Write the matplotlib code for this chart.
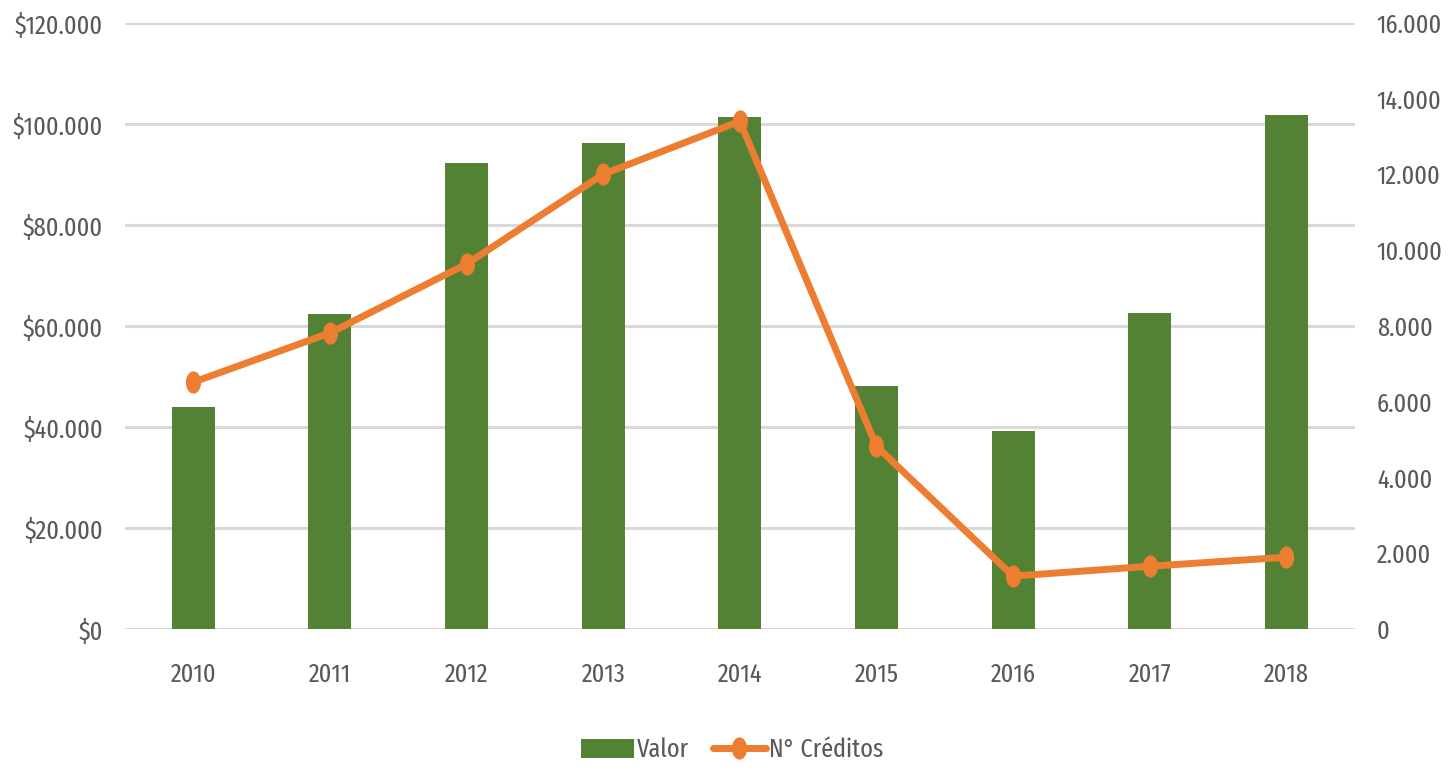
import matplotlib
matplotlib.use("Agg")
import numpy as np
from matplotlib import pyplot as plt
from matplotlib.ticker import FuncFormatter

years = ["2010", "2011", "2012", "2013", "2014", "2015", "2016", "2017", "2018"]
valor = [43.9, 62.4, 92.3, 96.2, 101.4, 48.1, 39.2, 62.6, 101.8]  # miles de $
creditos = [6520, 7820, 9640, 12010, 13410, 4830, 1400, 1660, 1900]

green = "#548235"
orange = "#ED7D31"
gray_txt = "#595959"

plt.rcParams["font.family"] = ["Fira Sans Extra Condensed", "DejaVu Sans"]

def miles(v):
  # formato con punto como separador de miles
  return f"{int(round(v)):,}".replace(",", ".")

# marcador eliptico (la imagen original esta comprimida en horizontal)
t = np.linspace(0, 2 * np.pi, 40)
oval = np.column_stack([0.66 * np.cos(t), np.sin(t)])

fig = plt.figure(figsize=(14.5, 7.71), dpi=100)
ax = fig.add_axes([0.0862, 0.184, 0.848, 0.786])
ax2 = ax.twinx()

x = np.arange(len(years))
ax.bar(x, valor, width=0.315, color=green, label="Valor", zorder=2)
ax2.plot(x, creditos, color=orange, lw=5, marker=oval, ms=15, label="N° Créditos",
         solid_capstyle="round", zorder=3)

ax.set_xlim(-0.5, len(years) - 0.5)
ax.set_ylim(0, 120)
ax.set_yticks(np.arange(0, 121, 20))
ax.yaxis.set_major_formatter(FuncFormatter(lambda v, p: "$" + miles(v * 1000) if v else "$0"))
ax2.set_ylim(0, 16000)
ax2.set_yticks(np.arange(0, 16001, 2000))
ax2.yaxis.set_major_formatter(FuncFormatter(lambda v, p: miles(v)))

ax.set_xticks(x)
ax.set_xticklabels(years)
ax.grid(axis="y", color="#d9d9d9", lw=2.2, zorder=0)
ax.set_axisbelow(True)

for a in (ax, ax2):
  for s in a.spines.values():
    s.set_visible(False)
  a.tick_params(length=0, labelsize=19, colors=gray_txt)
ax.tick_params(axis="y", pad=16)
ax2.tick_params(axis="y", pad=16)
ax.tick_params(axis="x", pad=24)

h1, l1 = ax.get_legend_handles_labels()
h2, l2 = ax2.get_legend_handles_labels()
fig.legend(h1 + h2, l1 + l2, loc="center", bbox_to_anchor=(0.505, 0.027), ncol=2,
           frameon=False, fontsize=19, labelcolor=gray_txt, handlelength=2.0,
           handleheight=0.75, handletextpad=0.12, columnspacing=0.9)

fig.savefig("out.png", dpi=100)
